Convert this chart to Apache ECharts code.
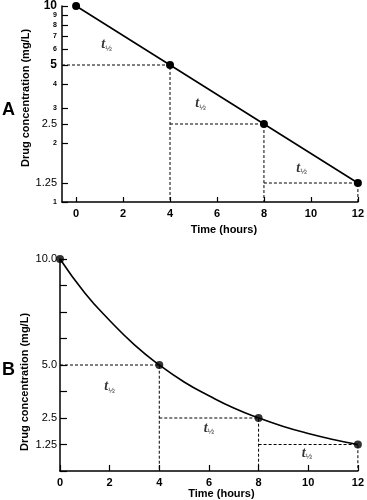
<!DOCTYPE html>
<html><head><meta charset="utf-8">
<script src="https://cdn.jsdelivr.net/npm/echarts@6/dist/echarts.min.js"></script>
<style>html,body{margin:0;padding:0;background:#fff}#c{width:367px;height:500px}</style>
</head><body><div id="c"></div>
<script>
// ---- data ----
const hoursA = [0, 4, 8, 12];
const concA = [10, 5, 2.5, 1.25];
const hoursB = [0, 1, 2, 3, 4, 5, 6, 7, 8, 9, 10, 11, 12];
const concB = [10, 8.4, 7.1, 5.95, 5, 4.2, 3.55, 2.97, 2.5, 2.1, 1.77, 1.49, 1.25];
const pointHoursB = [0, 4, 8, 12];
const pointConcB = [10, 5, 2.5, 1.25];
const xTicks = [0, 2, 4, 6, 8, 10, 12];
const yTicksA = [1, 1.25, 2, 2.5, 3, 4, 5, 6, 7, 8, 9, 10];
const yTopLabelA = [10];
const yBigA = [10, 5];
const yMidA = [2.5, 1.25];
const yTicksB = [1.25, 2.5, 5, 10];
const yTickLabelsB = ['1.25', '2.5', '5.0', '10.0'];
const halfX_A = [1.3, 5.3, 9.6];
const halfY_A = [6.35, 3.18, 1.49];
const halfX_B = [2.0, 6.0, 9.95];
const halfY_B = [3.97, 2.02, 0.84];
const xMinA = -0.6, yMinA = 1, yMaxA = 10;
const xMinB = 0, yMinB = 0;

// ---- build ----
const FONT = 'Liberation Sans';
const black = '#000';
function near(v, arr) { return arr.findIndex(t => Math.abs(t - v) < 1e-6); }

function guides(hours, conc, xMin, yMin) {
  const out = [];
  for (let i = 1; i < hours.length; i++) {
    const x0 = i === 1 ? xMin : hours[i - 1];
    out.push([[x0, conc[i]], [hours[i], conc[i]], [hours[i], yMin]]);
  }
  return out;
}
function dashedSeries(paths, xi, yi) {
  return paths.map(p => ({
    type: 'line', xAxisIndex: xi, yAxisIndex: yi, data: p, symbol: 'none',
    lineStyle: { color: black, width: 1, type: [3, 2] }, silent: true, z: 1, clip: false
  }));
}
const halfRich = {
  t: { fontFamily: 'Liberation Serif', fontStyle: 'italic', fontWeight: 'bold', fontSize: 14, color: black },
  h: { fontFamily: FONT, fontSize: 8, color: black, padding: [8, 0, 0, 0] }
};
function halfSeries(xs, ys, xi, yi) {
  return {
    type: 'scatter', xAxisIndex: xi, yAxisIndex: yi, symbolSize: 0, silent: true,
    data: xs.map((x, i) => [x, ys[i]]),
    label: { show: true, position: 'inside', formatter: '{t|t}{h|½}', rich: halfRich }
  };
}
const axisLine = { onZero: false, lineStyle: { color: black, width: 1.5 } };
const tickStyle = { color: black, width: 1.2 };
const nameStyle = { fontFamily: FONT, fontWeight: 'bold', fontSize: 11, color: black };
const yRichA = {
  a: { fontFamily: FONT, fontWeight: 'bold', fontSize: 12, color: black },
  b: { fontFamily: FONT, fontSize: 11, color: black },
  c: { fontFamily: FONT, fontWeight: 'bold', fontSize: 7, color: black }
};
function fmtA(v) {
  if (near(v, yBigA) >= 0) return '{a|' + yBigA[near(v, yBigA)] + '}';
  if (near(v, yMidA) >= 0) return '{b|' + yMidA[near(v, yMidA)] + '}';
  const i = near(v, yTicksA);
  return '{c|' + (i >= 0 ? yTicksA[i] : v) + '}';
}

const option = {
  animation: false,
  backgroundColor: '#fff',
  title: [
    { text: 'A', left: -3, top: 96, textStyle: { fontFamily: FONT, fontWeight: 'bold', fontSize: 18, color: black } },
    { text: 'B', left: -3, top: 356, textStyle: { fontFamily: FONT, fontWeight: 'bold', fontSize: 18, color: black } }
  ],
  grid: [
    { left: 62, top: 4, width: 296, height: 198 },
    { left: 60, top: 259, width: 300, height: 212 }
  ],
  xAxis: [
    {
      gridIndex: 0, type: 'value', min: xMinA, max: 12,
      axisLine: axisLine,
      axisTick: { inside: true, length: 5, customValues: xTicks, lineStyle: tickStyle },
      axisLabel: { customValues: xTicks, color: black, fontFamily: FONT, fontWeight: 'bold', fontSize: 11, margin: 6 },
      splitLine: { show: false },
      name: 'Time (hours)', nameLocation: 'middle', nameGap: 22, nameMoveOverlap: false,
      nameTextStyle: Object.assign({ padding: [0, 0, 0, 28] }, nameStyle)
    },
    {
      gridIndex: 1, type: 'value', min: xMinB, max: 12, interval: 2,
      axisLine: axisLine,
      axisTick: { inside: true, length: 6, lineStyle: tickStyle },
      axisLabel: { color: black, fontFamily: FONT, fontWeight: 'bold', fontSize: 11, margin: 6 },
      splitLine: { show: false },
      name: 'Time (hours)', nameLocation: 'middle', nameGap: 17, nameMoveOverlap: false,
      nameTextStyle: Object.assign({ padding: [0, 0, 0, 25] }, nameStyle)
    }
  ],
  yAxis: [
    {
      gridIndex: 0, type: 'log', logBase: 10, min: yMinA, max: yMaxA,
      axisLine: axisLine,
      axisTick: { inside: true, length: 6, customValues: yTicksA, lineStyle: tickStyle },
      axisLabel: {
        customValues: yTicksA.filter(v => near(v, yTopLabelA) < 0), margin: 5,
        showMaxLabel: true, showMinLabel: true, hideOverlap: false,
        formatter: fmtA, rich: yRichA
      },
      splitLine: { show: false },
      name: 'Drug concentration (mg/L)', nameLocation: 'middle', nameGap: 31, nameMoveOverlap: false,
      nameTextStyle: Object.assign({ padding: [0, 0, 0, 12] }, nameStyle)
    },
    {
      gridIndex: 1, type: 'value', min: yMinB, max: 10, interval: 1.25,
      axisLine: axisLine,
      axisTick: { inside: true, length: 7, lineStyle: tickStyle },
      axisLabel: {
        margin: 3, color: black, fontFamily: FONT, fontSize: 11, showMaxLabel: true, hideOverlap: false,
        formatter: v => { const i = near(v, yTicksB); return i >= 0 ? yTickLabelsB[i] : ''; }
      },
      splitLine: { show: false },
      name: 'Drug concentration (mg/L)', nameLocation: 'middle', nameGap: 30, nameMoveOverlap: false,
      nameTextStyle: Object.assign({ padding: [0, 34, 0, 0] }, nameStyle)
    },
    {
      // carries only the top "10" label of panel A (same log scale)
      gridIndex: 0, type: 'log', logBase: 10, min: yMinA, max: yMaxA, position: 'left',
      axisLine: { show: false }, axisTick: { show: false }, splitLine: { show: false },
      axisLabel: { customValues: yTopLabelA, margin: 5, showMaxLabel: true, formatter: fmtA, rich: yRichA }
    }
  ],
  series: [
    {
      type: 'line', xAxisIndex: 0, yAxisIndex: 0, data: hoursA.map((h, i) => [h, concA[i]]),
      symbol: 'circle', symbolSize: 8, itemStyle: { color: black },
      lineStyle: { color: black, width: 1.6 }, clip: false, z: 3
    },
    ...dashedSeries(guides(hoursA, concA, xMinA, yMinA), 0, 0),
    halfSeries(halfX_A, halfY_A, 0, 0),
    {
      type: 'line', xAxisIndex: 1, yAxisIndex: 1, data: hoursB.map((h, i) => [h, concB[i]]),
      symbol: 'none', smooth: true, lineStyle: { color: black, width: 1.6 }, clip: false, z: 3
    },
    {
      type: 'scatter', xAxisIndex: 1, yAxisIndex: 1, data: pointHoursB.map((h, i) => [h, pointConcB[i]]),
      symbol: 'circle', symbolSize: 8, itemStyle: { color: black }, clip: false, z: 4
    },
    ...dashedSeries(guides(pointHoursB, pointConcB, xMinB, yMinB), 1, 1),
    halfSeries(halfX_B, halfY_B, 1, 1)
  ]
};
const chart = echarts.init(document.getElementById('c'), null, { renderer: 'canvas' });
chart.setOption(option);
</script>
</body></html>
